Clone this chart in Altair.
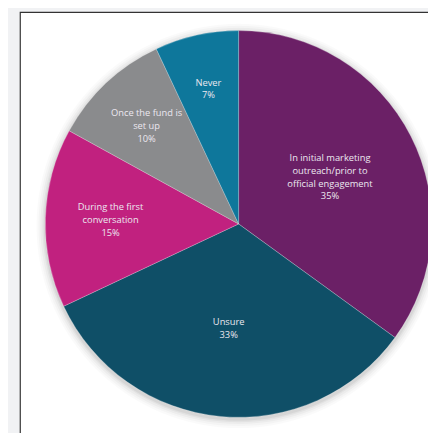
import altair as alt
import pandas as pd

categories = [
    "In initial marketing\noutreach/prior to\nofficial engagement",
    "Unsure",
    "During the first\nconversation",
    "Once the fund is\nset up",
    "Never",
]
values = [35, 33, 15, 10, 7]
colors = ["#6B2066", "#0F4F67", "#C1217F", "#8A8B8D", "#0E779B"]

df = pd.DataFrame({
    "category": categories,
    "value": values,
    "order": list(range(len(values))),
})
df["label"] = [c + "\n" + str(v) + "%" for c, v in zip(categories, values)]

CX, CY, R = 235, 216, 197
LH = 13

frame = alt.Chart(pd.DataFrame({"a": [1]})).mark_rect(
    fill="white", stroke="#333333", strokeWidth=1.2
).encode(x=alt.value(12.5), x2=alt.value(470), y=alt.value(0.5), y2=alt.value(470))

shadows = []
for dr, op in [(9, 0.02), (7, 0.025), (5, 0.03), (3, 0.04), (1.5, 0.05)]:
    shadows.append(
        alt.Chart(pd.DataFrame({"v": [1]})).mark_arc(
            outerRadius=R + dr, color="#000000", opacity=op, theta=0, theta2=6.2832
        ).encode(x=alt.value(CX), y=alt.value(CY + 2))
    )

pie = alt.Chart(df).mark_arc(
    outerRadius=R, stroke="#FFFFFF", strokeWidth=0.4, strokeOpacity=0.6
).encode(
    theta=alt.Theta("value:Q", stack=True),
    order=alt.Order("order:Q"),
    color=alt.Color("category:N", scale=alt.Scale(domain=categories, range=colors), legend=None),
    x=alt.value(CX),
    y=alt.value(CY),
)

labels = alt.Chart(df).transform_joinaggregate(
    total="sum(value)"
).transform_window(
    cum="sum(value)", sort=[alt.SortField("order")]
).transform_calculate(
    ang="2 * PI * (datum.cum - datum.value / 2) / datum.total",
    r="150 - 1.3 * datum.value",
    nl="length(split(datum.label, '\\n'))",
).transform_calculate(
    px=f"{CX} + datum.r * sin(datum.ang)",
    py=f"{CY} - datum.r * cos(datum.ang) - (datum.nl - 1) * {LH} / 2",
).mark_text(
    font="Open Sans", fontSize=9.5, lineHeight=LH, lineBreak="\n",
    color="#ECE8F0", align="center", baseline="middle"
).encode(
    x=alt.X("px:Q", scale=None, axis=None),
    y=alt.Y("py:Q", scale=None, axis=None),
    text="label:N",
)

chart = alt.layer(frame, *shadows, pie, labels).properties(
    width=428, height=425, padding=0, autosize=alt.AutoSizeParams(type="none"),
    background="#F1F2F4",
).configure_view(stroke=None)

chart.save("out.html", embed_options={"renderer": "svg", "actions": False})
